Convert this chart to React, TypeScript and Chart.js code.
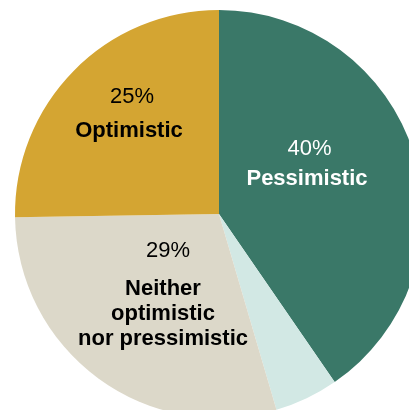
import React, { useEffect, useRef } from "react";
import { Chart, registerables } from "chart.js";

Chart.register(...registerables);

const categories = ["Pessimistic", "No answer", "Neither optimistic nor pressimistic", "Optimistic"];
const values = [40, 5, 29, 25];
const colors = ["#3a7868", "#d2e8e4", "#dcd8c9", "#d4a532"];
const pctLabels = ["40%", "", "29%", "25%"];
const nameLines = [["Pessimistic"], [], ["Neither", "optimistic", "nor pressimistic"], ["Optimistic"]];
const textColors = ["#ffffff", "#000000", "#000000", "#000000"];
// label baseline anchors relative to pie centre, in pixels at radius 204 (scaled by radius)
const pctOffsets = [[90.5, -59], [0, 0], [-51, 43], [-87, -111]];
const nameOffsets = [[88, -29], [0, 0], [-56, 81], [-90, -77]];
const lineGap = 25;

const labelPlugin = {
  id: "sliceLabels",
  afterDatasetsDraw(chart: any) {
    const ctx = chart.ctx;
    const meta = chart.getDatasetMeta(0);
    const arc0 = meta.data[0];
    const cx = arc0.x;
    const cy = arc0.y;
    const s = arc0.outerRadius / 204;
    ctx.save();
    ctx.textAlign = "center";
    ctx.textBaseline = "alphabetic";
    categories.forEach((_, i) => {
      ctx.fillStyle = textColors[i];
      if (pctLabels[i]) {
        ctx.font = "22px 'Liberation Sans', Arial, sans-serif";
        ctx.fillText(pctLabels[i], cx + pctOffsets[i][0] * s, cy + pctOffsets[i][1] * s);
      }
      ctx.font = "bold 22px 'Liberation Sans', Arial, sans-serif";
      nameLines[i].forEach((line, j) => {
        ctx.fillText(line, cx + nameOffsets[i][0] * s, cy + (nameOffsets[i][1] + j * lineGap) * s);
      });
    });
    ctx.restore();
  },
};

export default function App() {
  const ref = useRef<HTMLCanvasElement>(null);
  useEffect(() => {
    if (!ref.current) return;
    const chart = new Chart(ref.current, {
      type: "pie",
      data: {
        labels: categories,
        datasets: [
          {
            data: values,
            backgroundColor: colors,
            borderWidth: 0,
          },
        ],
      },
      options: {
        responsive: false,
        animation: false,
        layout: { padding: { left: 15, right: 15, top: 10, bottom: 10 } },
        plugins: {
          legend: { display: false },
          tooltip: { enabled: false },
        },
      },
      plugins: [labelPlugin],
    });
    return () => chart.destroy();
  }, []);
  return (
    <div
      style={{
        position: "fixed",
        left: 0,
        top: 0,
        width: 409,
        height: 410,
        overflow: "hidden",
        background: "#ffffff",
      }}
    >
      <canvas ref={ref} width={438} height={428} style={{ width: 438, height: 428, display: "block" }} />
    </div>
  );
}
